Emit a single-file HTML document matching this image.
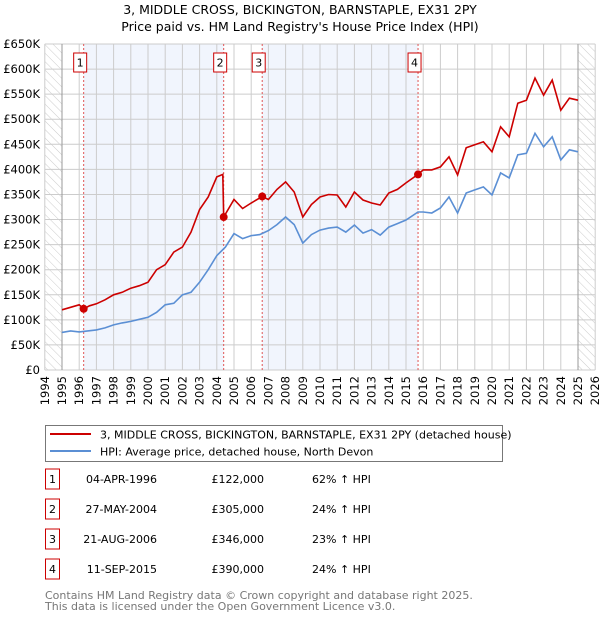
<!DOCTYPE html>
<html><head><meta charset="utf-8"><style>
body{margin:0;background:#fff;font-family:"Liberation Sans","DejaVu Sans",sans-serif;}
svg text{font-family:"DejaVu Sans","Liberation Sans",sans-serif;}
</style></head><body>
<svg id="c" width="600" height="620" xmlns="http://www.w3.org/2000/svg">
<defs><pattern id="h" width="6" height="6" patternUnits="userSpaceOnUse" patternTransform="rotate(-45)"><line x1="0" y1="0" x2="0" y2="6" stroke="#ccc" stroke-width="1"/></pattern></defs>
<text x="300" y="14" text-anchor="middle" font-size="12.5">3, MIDDLE CROSS, BICKINGTON, BARNSTAPLE, EX31 2PY</text>
<text x="300" y="31" text-anchor="middle" font-size="12.5">Price paid vs. HM Land Registry's House Price Index (HPI)</text>
<g id="plot"></g>
<g id="legend">
<rect x="45.5" y="425.5" width="457" height="36" fill="#fff" stroke="#777"/>
<line x1="50" y1="434" x2="91" y2="434" stroke="#cc0000" stroke-width="2"/>
<text x="100" y="438.5" font-size="11">3, MIDDLE CROSS, BICKINGTON, BARNSTAPLE, EX31 2PY (detached house)</text>
<line x1="50" y1="451" x2="91" y2="451" stroke="#5b8fd4" stroke-width="2"/>
<text x="100" y="455.5" font-size="11">HPI: Average price, detached house, North Devon</text>
</g>
<g id="table"></g>
<text x="45" y="599" font-size="11" fill="#777">Contains HM Land Registry data © Crown copyright and database right 2025.</text>
<text x="45" y="610" font-size="11" fill="#777">This data is licensed under the Open Government Licence v3.0.</text>
</svg>
<script>
const hpiYears=[1995,1995.5,1996,1996.5,1997,1997.5,1998,1998.5,1999,1999.5,2000,2000.5,2001,2001.5,2002,2002.5,2003,2003.5,2004,2004.5,2005,2005.5,2006,2006.5,2007,2007.5,2008,2008.5,2009,2009.5,2010,2010.5,2011,2011.5,2012,2012.5,2013,2013.5,2014,2014.5,2015,2015.7,2016,2016.5,2017,2017.5,2018,2018.5,2019,2019.5,2020,2020.5,2021,2021.5,2022,2022.5,2023,2023.5,2024,2024.5,2025];
const hpiValues=[75,78,76,78,80,84,90,94,97,101,105,115,130,133,150,155,175,200,228,245,272,262,268,270,278,290,305,290,253,270,279,283,285,275,289,273,280,269,285,292,299,315,315,313,323,345,313,353,359,365,349,393,383,429,432,472,445,465,419,439,435];
const priceYears=[1995,1995.5,1996,1996.26,1996.6,1997,1997.5,1998,1998.5,1999,1999.5,2000,2000.5,2001,2001.5,2002,2002.5,2003,2003.5,2004,2004.35,2004.4,2005,2005.5,2006,2006.64,2007,2007.5,2008,2008.5,2009,2009.5,2010,2010.5,2011,2011.5,2012,2012.5,2013,2013.5,2014,2014.5,2015,2015.7,2016,2016.5,2017,2017.5,2018,2018.5,2019,2019.5,2020,2020.5,2021,2021.5,2022,2022.5,2023,2023.5,2024,2024.5,2025];
const priceValues=[120,125,130,122,128,132,140,150,155,163,168,175,200,210,235,245,275,320,345,385,390,305,340,322,333,346,340,360,375,355,305,330,345,350,349,325,355,339,333,329,353,360,373,390,399,399,405,425,389,443,449,455,435,485,465,532,538,582,548,578,518,542,538];
const saleYears=[1996.26,2004.40,2006.64,2015.70];
const saleValues=[122,305,346,390];
const saleLabels=["1","2","3","4"];
const saleDates=["04-APR-1996","27-MAY-2004","21-AUG-2006","11-SEP-2015"];
const salePrices=["£122,000","£305,000","£346,000","£390,000"];
const saleHpi=["62% ↑ HPI","24% ↑ HPI","23% ↑ HPI","24% ↑ HPI"];
const yTicks=[0,50,100,150,200,250,300,350,400,450,500,550,600,650];
const yTickLabels=["£0","£50K","£100K","£150K","£200K","£250K","£300K","£350K","£400K","£450K","£500K","£550K","£600K","£650K"];
const xTicks=[1994,1995,1996,1997,1998,1999,2000,2001,2002,2003,2004,2005,2006,2007,2008,2009,2010,2011,2012,2013,2014,2015,2016,2017,2018,2019,2020,2021,2022,2023,2024,2025,2026];

const X0=44.8,X1=595.2,Y0=370,Y1=44;
const x=y=>X0+(y-1994)/32*(X1-X0);
const yv=v=>Y0-v/650*(Y0-Y1);
const NS="http://www.w3.org/2000/svg";
const plot=document.getElementById('plot');
function mk(tag,attrs,parent){const e=document.createElementNS(NS,tag);for(const k in attrs)e.setAttribute(k,attrs[k]);(parent||plot).appendChild(e);return e;}

let e=mk('rect',{x:X0,y:Y1,width:X1-X0,height:Y0-Y1,fill:'#fff'});


for(let i=0;i<saleYears.length;i+=2){
 e=mk('rect',{x:x(saleYears[i]),y:Y1,width:x(saleYears[i+1])-x(saleYears[i]),height:Y0-Y1,fill:'#f1f5fd'});
 
 
}
e=mk('rect',{x:X0,y:Y1,width:x(1995)-X0,height:Y0-Y1,fill:'url(#h)'});


e=mk('rect',{x:x(2025),y:Y1,width:X1-x(2025),height:Y0-Y1,fill:'url(#h)'});


yTicks.forEach((t,i)=>{
 mk('line',{x1:X0,x2:X1,y1:yv(t),y2:yv(t),stroke:'#ccc','stroke-width':1});
 e=mk('text',{x:40,y:yv(t)+4,'text-anchor':'end','font-size':11.5});
 e.textContent=yTickLabels[i];
 
 
});
xTicks.forEach(t=>{
 mk('line',{x1:x(t),x2:x(t),y1:Y1,y2:Y0,stroke:'#ccc','stroke-width':1});
 e=mk('text',{transform:`translate(${x(t)+4},${Y0+6}) rotate(-90)`,'text-anchor':'end','font-size':11.5});
 e.textContent=t;
 
 
});
mk('line',{x1:x(1995),x2:x(1995),y1:Y1,y2:Y0,stroke:'#999','stroke-width':1});
mk('line',{x1:x(2025),x2:x(2025),y1:Y1,y2:Y0,stroke:'#999','stroke-width':1});
saleYears.forEach((s,i)=>{
 e=mk('line',{x1:x(s),x2:x(s),y1:Y1,y2:Y0,stroke:'#e05555','stroke-width':1,'stroke-dasharray':'2,2'});
 
 
 const bx=x(s)-3.5;
 e=mk('rect',{x:bx-6.5,y:53,width:13,height:19,fill:'#fff',stroke:'#c00'});
 
 
 e=mk('text',{x:bx,y:66.5,'text-anchor':'middle','font-size':11});
 e.textContent=saleLabels[i];
 
 
});
const pts=(xs,vs)=>xs.map((t,i)=>x(t).toFixed(1)+','+yv(vs[i]).toFixed(1)).join(' ');
e=mk('polyline',{points:pts(hpiYears,hpiValues),fill:'none',stroke:'#5b8fd4','stroke-width':1.6});


e=mk('polyline',{points:pts(priceYears,priceValues),fill:'none',stroke:'#cc0000','stroke-width':1.6});


saleYears.forEach((s,i)=>{
 e=mk('circle',{cx:x(s),cy:yv(saleValues[i]),r:4,fill:'#cc0000'});
 
 
});
const tbl=document.getElementById('table');
saleLabels.forEach((l,i)=>{
 const ry=483+i*30;
 e=mk('rect',{x:45.5,y:ry-14,width:14,height:20,fill:'#fff',stroke:'#c00'},tbl);
 
 
 e=mk('text',{x:52.5,y:ry,'text-anchor':'middle','font-size':11},tbl);e.textContent=l;
 
 
 e=mk('text',{x:157,y:ry,'text-anchor':'end','font-size':11},tbl);e.textContent=saleDates[i];
 
 
 e=mk('text',{x:264,y:ry,'text-anchor':'end','font-size':11},tbl);e.textContent=salePrices[i];
 
 
 e=mk('text',{x:312,y:ry,'font-size':11},tbl);e.textContent=saleHpi[i];
 
 
});
</script>
</body></html>
